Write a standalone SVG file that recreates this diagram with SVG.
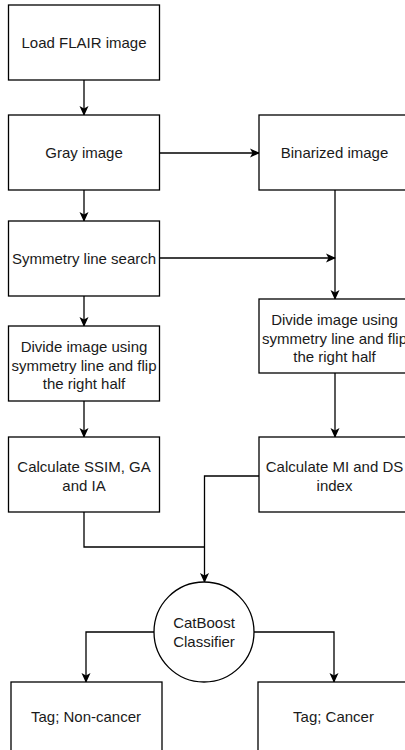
<svg xmlns="http://www.w3.org/2000/svg" width="405" height="750" viewBox="0 0 405 750">
<style>
.box{fill:#fff;stroke:#000;stroke-width:1.3}
.t{font-family:"Liberation Sans",Arial,sans-serif;font-size:15px;fill:#1a1a1a;text-anchor:middle}
.c{fill:none;stroke:#000;stroke-width:1.3}
</style>
<defs>
<marker id="a" viewBox="0 0 10 10" refX="9" refY="5" markerWidth="10" markerHeight="10" markerUnits="userSpaceOnUse" orient="auto">
<path d="M0,0.5 L10,5 L0,9.5 L2.5,5 Z" fill="#000"/>
</marker>
</defs>
<rect width="405" height="750" fill="#fff"/>
<g id="connectors">
<path class="c" d="M84,80 V115" marker-end="url(#a)"/>
<path class="c" d="M84,190 V221" marker-end="url(#a)"/>
<path class="c" d="M84,296 V326" marker-end="url(#a)"/>
<path class="c" d="M84,401 V437" marker-end="url(#a)"/>
<path class="c" d="M159,153 H259" marker-end="url(#a)"/>
<path class="c" d="M335,190 V299" marker-end="url(#a)"/>
<path class="c" d="M159,258 H335" marker-end="url(#a)"/>
<path class="c" d="M335,373 V437" marker-end="url(#a)"/>
<path class="c" d="M84,512 V547 H204.5"/>
<path class="c" d="M259,476 H204.5 V582" marker-end="url(#a)"/>
<path class="c" d="M154,632 H86 V682" marker-end="url(#a)"/>
<path class="c" d="M254,632 H334 V682" marker-end="url(#a)"/>
</g>
<g id="load">
<rect class="box" x="8.5" y="5" width="151" height="75"/>
<text class="t" x="84" y="48">Load FLAIR image</text>
</g>
<g id="gray">
<rect class="box" x="8.5" y="115" width="151" height="75"/>
<text class="t" x="84" y="158">Gray image</text>
</g>
<g id="binarized">
<rect class="box" x="259" y="115" width="151" height="75"/>
<text class="t" x="334.5" y="158">Binarized image</text>
</g>
<g id="symmetry">
<rect class="box" x="8.5" y="221" width="151" height="75"/>
<text class="t" x="84" y="264">Symmetry line search</text>
</g>
<g id="divideLeft">
<rect class="box" x="8.5" y="326" width="151" height="75"/>
<text class="t" x="84" y="352">Divide image using<tspan x="84" dy="18.5">symmetry line and flip</tspan><tspan x="84" dy="18.5">the right half</tspan></text>
</g>
<g id="divideRight">
<rect class="box" x="259" y="299" width="151" height="74"/>
<text class="t" x="334.5" y="325">Divide image using<tspan x="334.5" dy="18.5">symmetry line and flip</tspan><tspan x="334.5" dy="18.5">the right half</tspan></text>
</g>
<g id="calcLeft">
<rect class="box" x="8.5" y="437" width="151" height="75"/>
<text class="t" x="84" y="472">Calculate SSIM, GA<tspan x="84" dy="19">and IA</tspan></text>
</g>
<g id="calcRight">
<rect class="box" x="259" y="437" width="151" height="75"/>
<text class="t" x="334.5" y="472">Calculate MI and DS<tspan x="334.5" dy="19">index</tspan></text>
</g>
<g id="catboost">
<circle class="box" cx="204" cy="632" r="50"/>
<text class="t" x="204" y="628">CatBoost<tspan x="204" dy="19">Classifier</tspan></text>
</g>
<g id="noncancer">
<rect class="box" x="11" y="682" width="151" height="75"/>
<text class="t" x="86" y="722">Tag; Non-cancer</text>
</g>
<g id="cancer">
<rect class="box" x="258" y="682" width="151" height="75"/>
<text class="t" x="333.5" y="722">Tag; Cancer</text>
</g>
</svg>
